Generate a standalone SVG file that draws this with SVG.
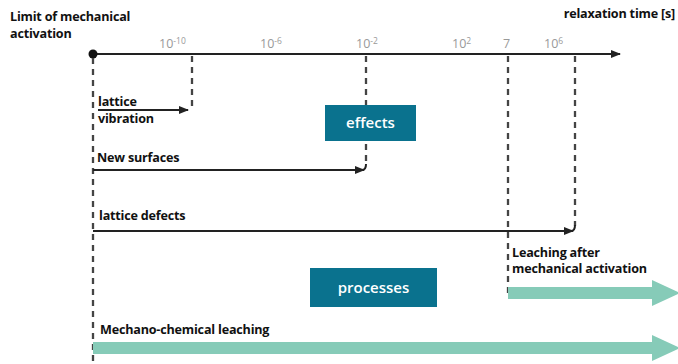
<svg xmlns="http://www.w3.org/2000/svg" width="678" height="364" viewBox="0 0 678 364">
<defs>
<style>
.t{font-family:"Open Sans","Liberation Sans",sans-serif;font-weight:bold;font-size:12.6px;fill:#111;letter-spacing:-0.2px}
.tick{font-family:"Open Sans","Liberation Sans",sans-serif;font-size:12.5px;fill:#999}
.sup{font-size:8.5px}
.box{fill:#0a728e}
.bt{font-family:"Open Sans","Liberation Sans",sans-serif;font-weight:600;font-size:15px;fill:#fff}
.dash{stroke:#444;stroke-width:2.3;stroke-dasharray:6,5;fill:none}
.ln{stroke:#222;stroke-width:2;fill:none}
.teal{fill:#86cbb8}
</style>
<marker id="ah" markerWidth="10" markerHeight="8" refX="9" refY="4" orient="auto" markerUnits="userSpaceOnUse">
<path d="M0,0 L10,4 L0,8 Z" fill="#222"/>
</marker>
</defs>
<rect width="678" height="364" fill="#fff"/>
<g id="labels">
<text class="t" x="10" y="21">Limit of mechanical</text>
<text class="t" x="10" y="38">activation</text>
<text class="t" x="675" y="18" text-anchor="end">relaxation time [s]</text>
<text class="tick" x="159" y="48">10<tspan class="sup" dy="-4">-10</tspan></text>
<text class="tick" x="260" y="48">10<tspan class="sup" dy="-4">-6</tspan></text>
<text class="tick" x="356" y="48">10<tspan class="sup" dy="-4">-2</tspan></text>
<text class="tick" x="452" y="48">10<tspan class="sup" dy="-4">2</tspan></text>
<text class="tick" x="503" y="48">7</text>
<text class="tick" x="544" y="48">10<tspan class="sup" dy="-4">6</tspan></text>
</g>
<g id="connectors">
<line x1="93" y1="54" x2="620" y2="54" stroke="#222" stroke-width="2.2" marker-end="url(#ah)"/>
<circle cx="93" cy="54" r="4.5" fill="#111"/>
<line class="dash" x1="93" y1="58" x2="93" y2="362"/>
<line class="dash" x1="192" y1="56" x2="192" y2="108"/>
<line class="dash" x1="366" y1="56" x2="366" y2="164"/>
<line class="dash" x1="508" y1="56" x2="508" y2="296"/>
<line class="dash" x1="575" y1="56" x2="575" y2="226"/>
<line class="ln" x1="98" y1="110" x2="188" y2="110" marker-end="url(#ah)"/>
<path class="ln" d="M93,170 L362,170 Q366,170 366,164" />
<line class="ln" x1="93" y1="170" x2="364" y2="170" marker-end="url(#ah)"/>
<path class="ln" d="M93,231 L571,231 Q575,231 575,225"/>
<line class="ln" x1="93" y1="231" x2="573" y2="231" marker-end="url(#ah)"/>
<path class="teal" d="M508,287 L652,287 L652,280 L680,293 L652,306 L652,299 L508,299 Z"/>
<path class="teal" d="M93,342 L652,342 L652,335 L680,348 L652,361 L652,354 L93,354 Z"/>
</g>
<g id="lattice-vibration">
<text class="t" x="98" y="106">lattice</text>
<text class="t" x="98" y="123">vibration</text>
</g>
<g id="effects">
<rect class="box" x="325" y="105" width="91" height="36"/>
<text class="bt" x="370.5" y="128" text-anchor="middle">effects</text>
</g>
<g id="new-surfaces">
<text class="t" x="97" y="162">New surfaces</text>
</g>
<g id="lattice-defects">
<text class="t" x="99" y="220">lattice defects</text>
</g>
<g id="leaching-after">
<text class="t" x="512" y="257">Leaching after</text>
<text class="t" x="512" y="273">mechanical activation</text>
</g>
<g id="processes">
<rect class="box" x="310" y="268" width="127" height="39"/>
<text class="bt" x="373.5" y="293" text-anchor="middle">processes</text>
</g>
<g id="mechano-chemical">
<text class="t" x="100" y="334">Mechano-chemical leaching</text>
</g>
</svg>
